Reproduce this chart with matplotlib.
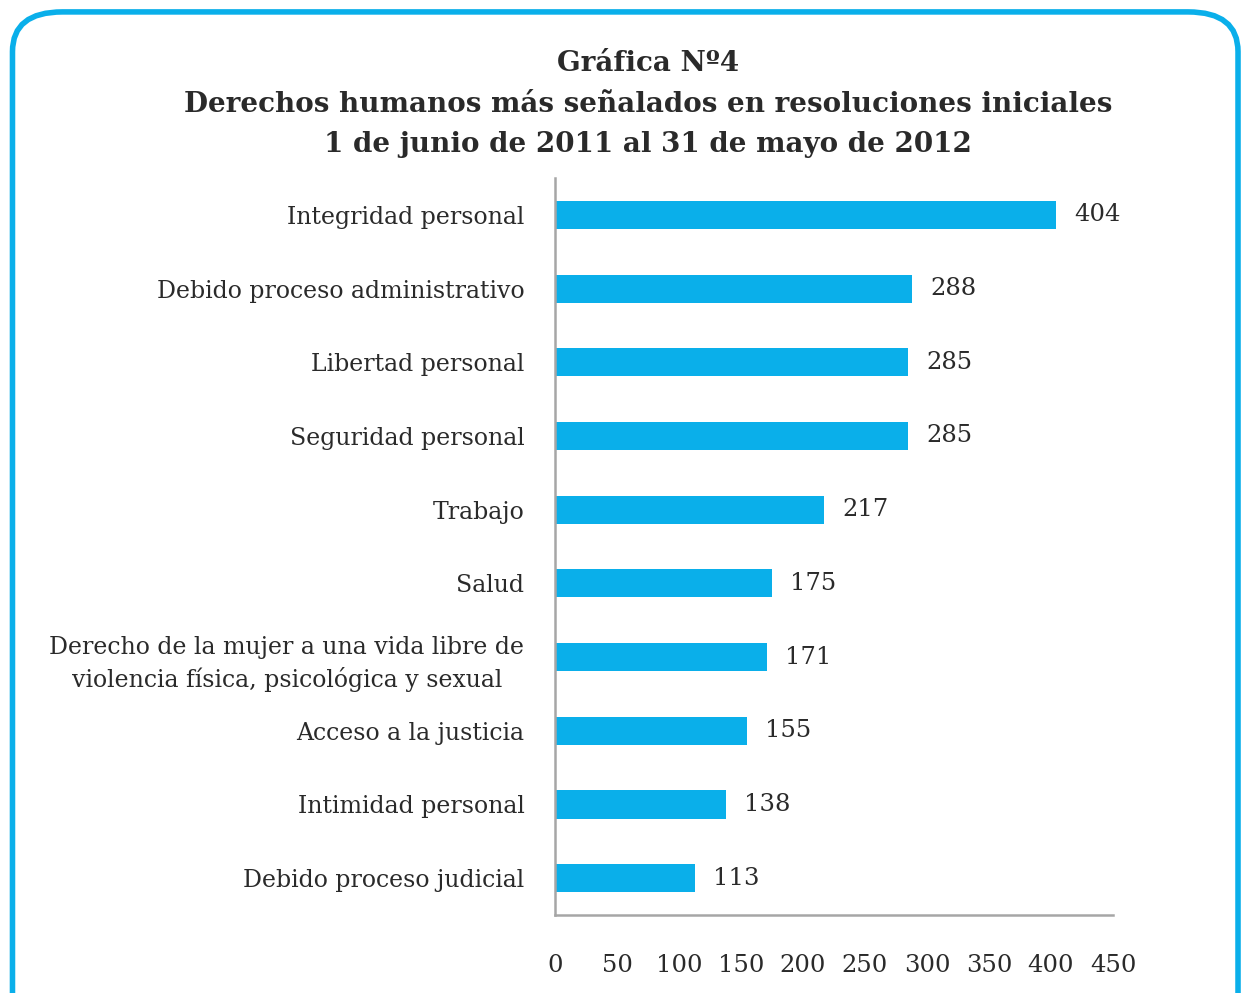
import matplotlib.pyplot as plt
from matplotlib.patches import FancyBboxPatch

categorias = ["Integridad personal", "Debido proceso administrativo",
              "Libertad personal", "Seguridad personal", "Trabajo", "Salud",
              "Derecho de la mujer a una vida libre de\nviolencia física, psicológica y sexual",
              "Acceso a la justicia", "Intimidad personal", "Debido proceso judicial"]
valores = [404, 288, 285, 285, 217, 175, 171, 155, 138, 113]
ticks_x = [0, 50, 100, 150, 200, 250, 300, 350, 400, 450]

titulo = ("Gráfica Nº4\n"
          "Derechos humanos más señalados en resoluciones iniciales\n"
          "1 de junio de 2011 al 31 de mayo de 2012")

azul = "#0aafea"
texto = "#2a2a2a"
plt.rcParams["font.family"] = ["DejaVu Serif"]

fig = plt.figure(figsize=(12.48, 9.93), dpi=100)

# marco redondeado
marco = FancyBboxPatch((0.010, -0.05), 0.982, 1.038,
                       boxstyle="round,pad=0,rounding_size=0.04",
                       transform=fig.transFigure, fill=False,
                       edgecolor=azul, linewidth=4)
fig.patches.append(marco)

fig.text(0.519, 0.950, titulo, ha="center", va="top", fontsize=20,
         fontweight="bold", color=texto, linespacing=1.66)

ax = fig.add_axes([0.4447, 0.0785, 0.4471, 0.7422])
pos = list(range(len(categorias)))
ax.barh(pos, valores, height=0.38, color=azul)
ax.set_ylim(len(categorias) - 0.5, -0.5)
ax.set_xlim(0, 450)
ax.set_xticks(ticks_x)
ax.set_yticks(pos)
ax.set_yticklabels(categorias, ha="right", multialignment="center",
                   linespacing=1.4)

for p, v in zip(pos, valores):
    ax.annotate(str(v), (v, p), xytext=(13, 0), textcoords="offset points",
                va="center", ha="left", fontsize=17.5, color=texto)

ax.tick_params(axis="both", length=0, labelcolor=texto)
ax.tick_params(axis="x", pad=28, labelsize=17.5)
ax.tick_params(axis="y", pad=22, labelsize=17)
for s in ("top", "right"):
    ax.spines[s].set_visible(False)
for s in ("left", "bottom"):
    ax.spines[s].set_color("#a6a6a6")
    ax.spines[s].set_linewidth(1.8)

fig.savefig("out.png", dpi=100)
